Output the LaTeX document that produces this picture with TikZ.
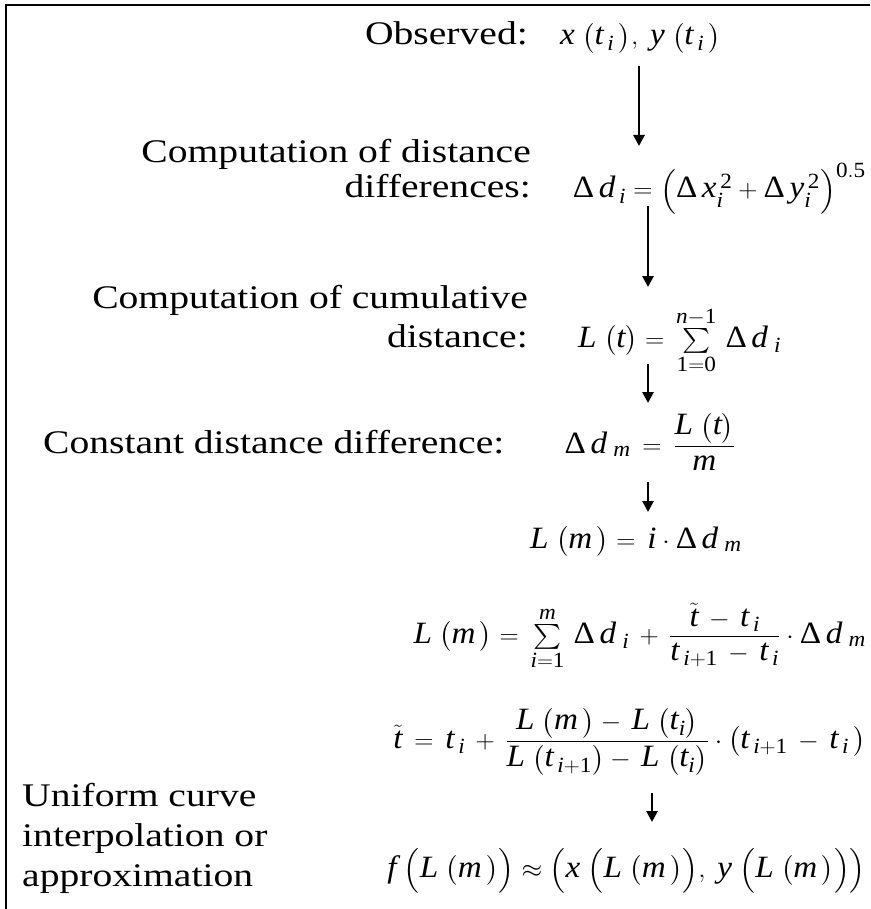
\documentclass[tikz,border=0pt]{standalone}
\usepackage{amsmath}
\usepackage{graphicx}
\usepackage{mathspec}
\setmainfont{Liberation Serif}
\setmathsfont(Digits,Latin,Greek){Liberation Serif}
\newfontfamily\lblfont[FakeStretch=1.2]{Liberation Serif}
\usetikzlibrary{arrows.meta, positioning}
\tikzset{
  lbl/.style={inner sep=0pt, font=\fontsize{33}{38}\selectfont\lblfont},
  eqn/.style={inner sep=0pt, font=\fontsize{31}{36}\selectfont},
  arrow/.style={-{Triangle[length=11pt,width=11pt]}, line width=2.6pt},
  frame/.style={line width=2.4pt},
}
\newcommand{\pr}[1]{\bigl(#1\bigr)}
\newcommand{\wx}[1]{\scalebox{1.07}[1]{#1}}
\begin{document}
\begin{tikzpicture}[x=1pt, y=-1pt]
  \useasboundingbox (0,0) rectangle (870,909);
  \draw[frame] (6,909) -- (6,5) -- (870,5);

  % labels on the left
  \node[lbl, anchor=base east] (obs) at (528,45) {Observed:};
  \node[lbl, anchor=base east] (dd1) at (531,163) {Computation of distance};
  \node[lbl, anchor=base east] (dd2) at (531,198) {differences:};
  \node[lbl, anchor=base east] (cum1) at (528,308) {Computation of cumulative};
  \node[lbl, anchor=base east] (cum2) at (528,347) {distance:};
  \node[lbl, anchor=base west] (cst) at (43,453) {Constant distance difference:};
  \node[lbl, anchor=base west] (uni1) at (22,806) {Uniform curve};
  \node[lbl, anchor=base west] (uni2) at (22,846) {interpolation or};
  \node[lbl, anchor=base west] (uni3) at (22,886) {approximation};

  % formulas
  \node[eqn, anchor=base west] (f1) at (560,45)
    {\wx{$x\;\pr{t_{\,i}\,},\; y\;\pr{t_{\,i}\,}$}};
  \node[eqn, anchor=base east] (f2) at (866,198)
    {\wx{$\Delta\, d_{\,i} = \Bigl(\Delta\, x_i^{\,2} + \Delta\, y_i^{\,2}\Bigr)^{0.5}$}};
  \node[eqn, anchor=base west] (f3) at (578,347)
    {\wx{$L\;\pr{t} = \,\sum\limits_{1=0}^{n-1}\,\Delta\, d_{\;i}$}};
  \node[eqn, anchor=base] (f4) at (650,453)
    {\wx{$\Delta\, d_{\;m} \,=\, \dfrac{L\;\pr{t}}{m}$}};
  \node[eqn, anchor=base] (f5) at (636,548)
    {\wx{$L\;\pr{m\,} = \,i\cdot\Delta\, d_{\;m}$}};
  \node[eqn, anchor=base east] (f6) at (866,643)
    {\wx{$L\;\pr{m\,} = \,\sum\limits_{i=1}^{m}\,\Delta\, d_{\;i} \,+\, \dfrac{\tilde t\, -\, t_{\,i}}{t_{\,i+1}\,-\,t_{\,i}}\cdot\Delta\, d_{\;m}$}};
  \node[eqn, anchor=base east] (f7) at (866,748)
    {\wx{$\tilde t \,=\, t_{\,i} \,+\, \dfrac{L\;\pr{m\,}-\,L\;\pr{t_i}}{L\;\pr{t_{\,i+1}}-\,L\;\pr{t_i}}\cdot\pr{t_{\,i+1}\,-\,t_{\,i}\,}$}};
  \node[eqn, anchor=base east] (f8) at (866,877)
    {\wx{$f\;\Bigl(L\;\pr{m\,}\Bigr)\approx\Bigl(x\;\Bigl(L\;\pr{m\,}\Bigr),\; y\;\Bigl(L\;\pr{m\,}\Bigr)\Bigr)$}};

  % arrow ends
  \coordinate (a1s) at (639,66);  \coordinate (a1e) at (639,146);
  \coordinate (a2s) at (648,206); \coordinate (a2e) at (648,287);
  \coordinate (a3s) at (648,364); \coordinate (a3e) at (648,403);
  \coordinate (a4s) at (648,482); \coordinate (a4e) at (648,512);
  \coordinate (a5s) at (652,793); \coordinate (a5e) at (652,822);

  \draw[arrow] (a1s) -- (a1e);
  \draw[arrow] (a2s) -- (a2e);
  \draw[arrow] (a3s) -- (a3e);
  \draw[arrow] (a4s) -- (a4e);
  \draw[arrow] (a5s) -- (a5e);
\end{tikzpicture}
\end{document}
